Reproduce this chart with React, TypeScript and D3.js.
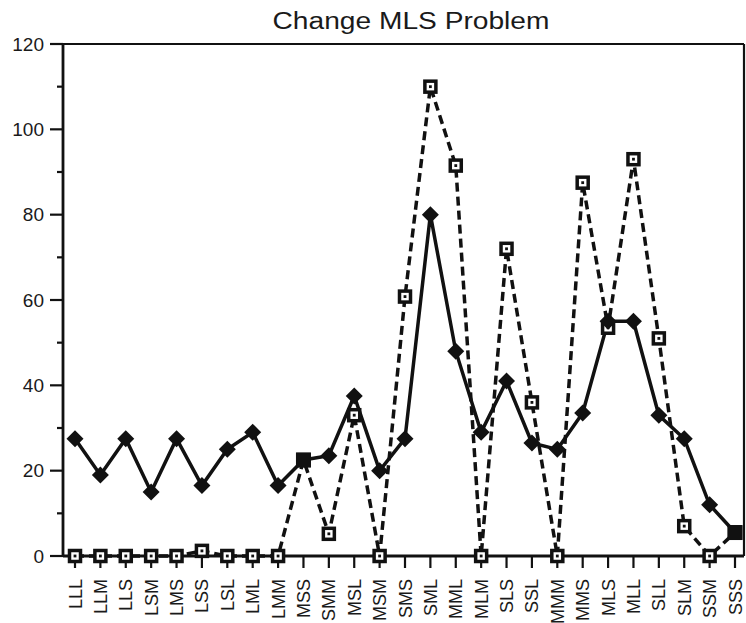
import React from "react";
import * as d3 from "d3";

const categories = ["LLL","LLM","LLS","LSM","LMS","LSS","LSL","LML","LMM","MSS","SMM","MSL","MSM","SMS","SML","MML","MLM","SLS","SSL","MMM","MMS","MLS","MLL","SLL","SLM","SSM","SSS"];
const solidSeries = [27.5,19,27.5,15,27.5,16.5,25,29,16.5,22.5,23.5,37.5,20,27.5,80,48,29,41,26.5,25,33.5,55,55,33,27.5,12,5.5];
const dashedSeries = [0,0,0,0,0,1.2,0,0,0,22.5,5.2,33,0,60.8,110,91.5,0,72,36,0,87.5,53.5,93,51,7,0,5.5];
const yTicks = [0,20,40,60,80,100,120];
const yMinorTicks = [10,30,50,70,90,110];
const title = "Change MLS Problem";

const W = 746, H = 623;
const left = 63, right = 744, top = 44, bottom = 556;

export default function App() {
  const x = d3.scalePoint<string>().domain(categories).range([75, 735]).padding(0);
  const y = d3.scaleLinear().domain([0, 120]).range([bottom, top]);
  const lineGen = d3.line<number>().x((_, i) => x(categories[i])!).y(d => y(d));
  const font = "'Liberation Sans', Arial, Helvetica, sans-serif";
  return (
    <svg width={W} height={H} style={{ position: "absolute", left: 0, top: 0, background: "#fff" }}>
      <rect x={0} y={0} width={W} height={H} fill="#fff" />
      <text x={411} y={29} textAnchor="middle" fontFamily={font} fontSize={23} textLength={277} lengthAdjust="spacingAndGlyphs" fill="#1a1a1a">{title}</text>
      {/* frame */}
      <line x1={left} x2={right} y1={top} y2={top} stroke="#111" strokeWidth={2.2} />
      <line x1={right} x2={right} y1={top} y2={bottom} stroke="#111" strokeWidth={2.2} />
      <line x1={left} x2={left} y1={top} y2={bottom} stroke="#111" strokeWidth={2.8} />
      <line x1={left} x2={right} y1={bottom} y2={bottom} stroke="#111" strokeWidth={2.8} />
      {/* y ticks */}
      {yTicks.map(t => (
        <g key={"y" + t}>
          <line x1={left - 13} x2={left} y1={y(t)} y2={y(t)} stroke="#111" strokeWidth={2.2} />
          <text x={44} y={y(t)} dy="0.35em" textAnchor="end" fontFamily={font} fontSize={19} fill="#1a1a1a">{t}</text>
        </g>
      ))}
      {yMinorTicks.map(t => (
        <line key={"ym" + t} x1={left - 6} x2={left} y1={y(t)} y2={y(t)} stroke="#111" strokeWidth={2.2} />
      ))}
      {/* x ticks */}
      {categories.map(c => (
        <g key={"x" + c}>
          <line x1={x(c)!} x2={x(c)!} y1={bottom} y2={bottom + 12} stroke="#111" strokeWidth={2.2} />
          <text transform={`translate(${x(c)! + 6.5},579) rotate(-90)`} textAnchor="end" fontFamily={font} fontSize={18} fill="#1a1a1a">{c}</text>
        </g>
      ))}
      {/* dashed series */}
      <path d={lineGen(dashedSeries)!} fill="none" stroke="#111" strokeWidth={3.5} strokeDasharray="9,5" />
      {/* solid series */}
      <path d={lineGen(solidSeries)!} fill="none" stroke="#111" strokeWidth={3.5} />
      {/* open squares */}
      {dashedSeries.map((v, i) => (
        <g key={"sq" + i} transform={`translate(${x(categories[i])},${y(v)})`}>
          <rect x={-5.5} y={-5.5} width={11} height={11} fill="#fff" stroke="#111" strokeWidth={3.5} />
          <rect x={-1.4} y={-1.4} width={2.8} height={2.8} fill="#111" />
        </g>
      ))}
      {/* diamonds / filled squares where equal */}
      {solidSeries.map((v, i) => (
        <g key={"dm" + i} transform={`translate(${x(categories[i])},${y(v)})`}>
          {v === dashedSeries[i]
            ? <rect x={-7.5} y={-7.5} width={15} height={15} fill="#111" />
            : <path d="M0,-8.5L8.5,0L0,8.5L-8.5,0Z" fill="#111" />}
        </g>
      ))}
    </svg>
  );
}
